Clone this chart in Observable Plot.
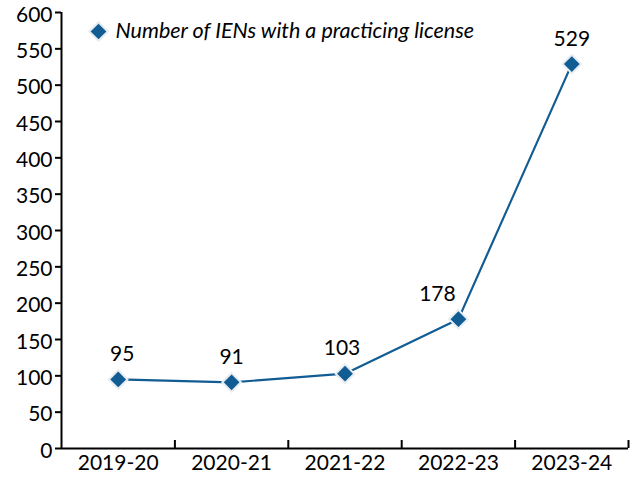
<!DOCTYPE html>
<html>
<head>
<meta charset="utf-8">
<script src="https://cdn.jsdelivr.net/npm/d3@7"></script>
<script src="https://cdn.jsdelivr.net/npm/@observablehq/plot@0.6"></script>
<style>
  html, body { margin: 0; padding: 0; background: #fff; }
  #chart svg { display: block; }
</style>
</head>
<body>
<div id="chart"></div>
<script>
const categories = ["2019-20", "2020-21", "2021-22", "2022-23", "2023-24"];
const values = [95, 91, 103, 178, 529];
const yTicks = [0, 50, 100, 150, 200, 250, 300, 350, 400, 450, 500, 550, 600];
const seriesName = "Number of IENs with a practicing license";

const color = "#125c94";
const data = categories.map((c, i) => ({ c, x: i + 0.5, v: values[i] }));
const boundaries = categories.map((c, i) => i + 1);
// label nudges (px) to keep labels clear of the line
const nudge = { "2019-20": 4, "2021-22": -3, "2022-23": -21 };

const chart = Plot.plot({
  width: 639,
  height: 480,
  marginLeft: 61,
  marginRight: 11,
  marginTop: 12,
  marginBottom: 32,
  style: { fontFamily: "Lato, sans-serif", fontSize: "21px", color: "#000", background: "#fff", overflow: "visible" },
  x: { domain: [0, categories.length], axis: null },
  y: { domain: [0, 600], axis: null },
  marks: [
    Plot.axisY({ ticks: yTicks, tickSize: 6, tickPadding: 3, fontSize: 21, label: null, strokeWidth: 2, textStroke: null }),
    Plot.text(yTicks, { y: d => d, frameAnchor: "left", dx: -9, dy: 2.5, text: d => String(d), textAnchor: "end", fontSize: 21, fill: "#000" }),
    Plot.axisX({ ticks: data.map(d => d.x), tickFormat: x => categories[Math.floor(x)], tickSize: 0, tickPadding: 7, fontSize: 21, label: null }),
    Plot.ruleX([0], { stroke: "#000", strokeWidth: 2 }),
    Plot.ruleY([0], { stroke: "#000", strokeWidth: 2 }),
    Plot.ruleX(boundaries, { y1: 0, y2: 11, stroke: "#000", strokeWidth: 2 }),
    Plot.line(data, { x: "x", y: "v", stroke: color, strokeWidth: 2.2 }),
    Plot.dot(data, { x: "x", y: "v", symbol: "square", rotate: 45, r: 7.4, fill: color, stroke: "#e6ecf1", strokeWidth: 2 }),
    ...data.map(d => Plot.text([d], { x: "x", y: "v", text: d => String(d.v), dx: nudge[d.c] || 0, dy: -25, fontSize: 21, fill: "#000" })),
    Plot.dot([seriesName], { frameAnchor: "top-left", dx: 37, dy: 19, symbol: "square", rotate: 45, r: 7.4, fill: color, stroke: "#e6ecf1", strokeWidth: 2 }),
    Plot.text([seriesName], { frameAnchor: "top-left", dx: 54, dy: 19, text: d => d, textAnchor: "start", lineAnchor: "middle", fontSize: 21.5, fontStyle: "italic", fill: "#000" })
  ]
});
// hide the built-in y tick labels (replaced by the nudged text mark above)
chart.querySelectorAll('g[aria-label="y-axis tick label"]').forEach(g => g.remove());
document.getElementById("chart").appendChild(chart);
</script>
</body>
</html>
